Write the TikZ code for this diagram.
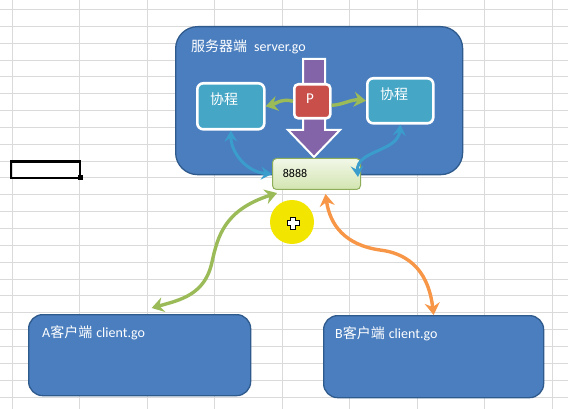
\documentclass[tikz,border=0pt]{standalone}
\usepackage{fontspec}
\setmainfont{Carlito}
\newfontfamily\cjk{Noto Sans CJK SC}
\usetikzlibrary{arrows.meta,calc}
\definecolor{gridc}{HTML}{DADADA}
\definecolor{boxblue}{HTML}{4A7EBF}
\definecolor{boxedge}{HTML}{2F5A8C}
\definecolor{coteal}{HTML}{45A6C6}
\definecolor{pred}{HTML}{C9504A}
\definecolor{purp}{HTML}{8464A8}
\definecolor{olgreen}{HTML}{9BBB59}
\definecolor{arrblue}{HTML}{3A9DCC}
\definecolor{orng}{HTML}{F79646}
\definecolor{hiyellow}{HTML}{F2E600}
\definecolor{ptop}{HTML}{F2F7E8}
\definecolor{pbot}{HTML}{D3E5B0}
\definecolor{pedge}{HTML}{8FAE5A}
\tikzset{
  bigbox/.style={draw=boxedge, fill=boxblue, line width=1.3, inner sep=0, anchor=north west},
  cobox/.style={draw=white, fill=coteal, line width=2.6, rounded corners=6, inner sep=0, anchor=north west},
  wtxt/.style={text=white, font=\fontsize{14}{14}\selectfont, inner sep=0},
  garrow/.style={draw=olgreen, line width=3.4, -{Stealth[length=12pt,width=15pt,inset=4pt]}},
  barrow/.style={draw=arrblue, line width=3, {Stealth[length=11pt,width=13pt,inset=4pt]}-{Stealth[length=11pt,width=13pt,inset=4pt]}},
  darrow/.style={line width=3.4, {Stealth[length=12pt,width=15pt,inset=4pt]}-{Stealth[length=12pt,width=15pt,inset=4pt]}}
}
\begin{document}
\begin{tikzpicture}[x=1pt,y=-1pt]
\useasboundingbox (0,0) rectangle (568,409);
\fill[white] (0,0) rectangle (568,409);
% spreadsheet grid
\foreach \i in {0,...,8} \draw[gridc,line width=1] ({12+67.5*\i},0) -- ({12+67.5*\i},409);
\foreach \j in {0,...,23} \draw[gridc,line width=1] (0,{9.5+16.85*\j}) -- (568,{9.5+16.85*\j});
% selected cell
\draw[black,line width=2.5] (11,161.5) rectangle (80,178);
\fill[black] (77.5,175.5) rectangle (82.5,180.5);

% server box
\node[bigbox, rounded corners=22, minimum width=287, minimum height=148] (srv) at (175,26) {};
\node[wtxt, anchor=west] (srvt) at (191,47) {{\cjk 服务器端}\hspace{7pt}server.go};

% purple block arrow
\draw[white, line width=2, fill=purp] (303,59) -- (325,59) -- (325,130) -- (340,130) -- (314,157) -- (288,130) -- (303,130) -- cycle;

% P box
\node[cobox, fill=pred, rounded corners=4, minimum width=36, minimum height=34] (p) at (293,83) {};
\node[wtxt, font=\fontsize{15}{15}\selectfont] (pt) at (310,99) {P};

% coroutine boxes
\node[cobox, minimum width=67, minimum height=46] (lco) at (196,82) {};
\node[wtxt] (lcot) at (224,99) {\cjk 协程};
\node[cobox, minimum width=66, minimum height=45] (rco) at (366,77) {};
\node[wtxt] (rcot) at (394,94) {\cjk 协程};

% green arrows P -> coroutines
\draw[garrow] (p.west) .. controls (282,98) and (275,104) .. (lco.east);
\draw[garrow] ($(p.east)+(0,4)$) .. controls (342,105) and (352,99) .. (rco.west);

% 8888 port box
\node[draw=pedge, line width=1, top color=ptop, bottom color=pbot, rounded corners=4, inner sep=0,
      minimum width=88, minimum height=31, anchor=north west] (port) at (272,158) {};
\node[inner sep=0, font=\fontsize{12}{12}\selectfont] (portt) at (295,173) {8888};

% blue arrows
\draw[barrow] (lco.south) .. controls (231,152) and (246,172) .. (port.west);
\draw[barrow] ($(port.east)+(-3,3)$) .. controls (356,150) and (398,152) .. (rco.south);

% client boxes
\node[bigbox, rounded corners=14, minimum width=222, minimum height=81] (a) at (28,314) {};
\node[wtxt, anchor=west] (at) at (42,333) {A{\cjk 客户端}\hspace{4pt}client.go};
\node[bigbox, rounded corners=14, minimum width=220, minimum height=82] (b) at (323,315) {};
\node[wtxt, anchor=west] (bt) at (335,334) {B{\cjk 客户端}\hspace{4pt}client.go};

% client connections
\draw[darrow, draw=olgreen] ($(port.south west)+(5,3)$) .. controls (225,210) and (218,235) .. (212,262)
   .. controls (205,295) and (180,300) .. ($(a.north)+(12,-6)$);
\draw[darrow, draw=orng] ($(port.south)+(9,4)$) .. controls (330,225) and (345,245) .. (380,250)
   .. controls (420,255) and (430,285) .. (b.north);

% mouse highlight
\fill[hiyellow] (292,222) circle (22);
\draw[black, line width=1, fill=white] (290.5,217)--(295.5,217)--(295.5,220.5)--(299,220.5)--(299,225.5)--(295.5,225.5)--(295.5,229)--(290.5,229)--(290.5,225.5)--(287,225.5)--(287,220.5)--(290.5,220.5)--cycle;
\end{tikzpicture}
\end{document}
